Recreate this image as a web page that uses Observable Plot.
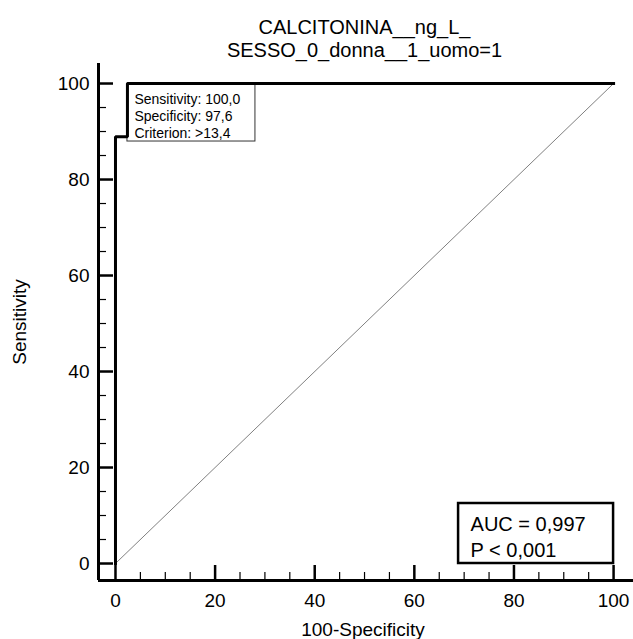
<!DOCTYPE html>
<html><head><meta charset="utf-8">
<script src="https://cdn.jsdelivr.net/npm/d3@7"></script>
<script src="https://cdn.jsdelivr.net/npm/@observablehq/plot@0.6"></script>
<style>html,body{margin:0;padding:0;background:#fff;} svg{display:block;}</style>
</head><body><div id="chart"></div>
<script>
const titleLines = ["CALCITONINA__ng_L_", "SESSO_0_donna__1_uomo=1"];
const xLabel = "100-Specificity";
const yLabel = "Sensitivity";
const rocFpr = [0, 0, 2.4, 2.4, 100];
const rocSens = [0, 88.9, 88.9, 100, 100];
const diagX = [0, 100];
const diagY = [0, 100];
const majorTicks = [0, 20, 40, 60, 80, 100];
const minorTicks = [5, 10, 15, 25, 30, 35, 45, 50, 55, 65, 70, 75, 85, 90, 95];
const criterionLines = ["Sensitivity: 100,0", "Specificity: 97,6", "Criterion: >13,4"];
const criterionFpr = 2.4;
const criterionSens = 100;
const aucLines = ["AUC = 0,997", "P < 0,001"];

const W = 633, H = 639, mL = 98, mR = 0, mT = 63, mB = 59;
const xDom = [-3.41, 104.0], yDom = [-3.54, 104.17];
const kx = (W - mL - mR) / (xDom[1] - xDom[0]);
const ky = (H - mT - mB) / (yDom[1] - yDom[0]);

const roc = rocFpr.map((x, i) => ({x, y: rocSens[i]}));
const diag = diagX.map((x, i) => ({x, y: diagY[i]}));
const crit = [{x: criterionFpr, y: criterionSens, text: criterionLines.join("\n")}];
const auc = [{x1: diagX[1] - 155 / kx, x2: diagX[1], y1: diagY[0], y2: diagY[0] + 60 / ky, text: aucLines.join("\n")}];

const font = "'Liberation Sans', Arial, sans-serif";

const chart = Plot.plot({
  width: W, height: H,
  marginLeft: mL, marginRight: mR, marginTop: mT, marginBottom: mB,
  style: {fontFamily: font, fontSize: "19px", color: "#000", background: "#fff", overflow: "visible"},
  x: {domain: xDom},
  y: {domain: yDom},
  marks: [
    Plot.line(diag, {x: "x", y: "y", stroke: "#808080", strokeWidth: 1}),
    Plot.ruleX([xDom[0]], {stroke: "#000", strokeWidth: 3}),
    Plot.ruleY([yDom[0]], {stroke: "#000", strokeWidth: 3}),
    Plot.ruleX(majorTicks, {x: d => d, y1: yDom[0], y2: yDom[0] + 15 / ky, stroke: "#000", strokeWidth: 2.5}),
    Plot.ruleX(minorTicks, {x: d => d, y1: yDom[0], y2: yDom[0] + 8 / ky, stroke: "#000", strokeWidth: 1.2}),
    Plot.ruleY(majorTicks, {y: d => d, x1: xDom[0], x2: xDom[0] + 15 / kx, stroke: "#000", strokeWidth: 2.5}),
    Plot.ruleY(minorTicks, {y: d => d, x1: xDom[0], x2: xDom[0] + 8 / kx, stroke: "#000", strokeWidth: 1.2}),
    Plot.axisX({ticks: majorTicks, tickSize: 0, tickPadding: 13, fontSize: 19, label: null, anchor: "bottom"}),
    Plot.axisY({ticks: majorTicks, tickSize: 0, tickPadding: 9, fontSize: 19, label: null, anchor: "left"}),
    Plot.rect(crit, {x1: "x", x2: d => d.x + 128 / kx, y1: d => d.y - 58 / ky, y2: "y", fill: "#fff", stroke: "#333", strokeWidth: 1}),
    Plot.line(roc, {x: "x", y: "y", stroke: "#000", strokeWidth: 3, strokeLinejoin: "miter", strokeLinecap: "square"}),
    Plot.text(crit, {x: "x", y: "y", text: "text", textAnchor: "start", lineAnchor: "top", dx: 7, dy: 8, fontSize: 14, lineHeight: 17 / 14, fill: "#000"}),
    Plot.rect(auc, {x1: "x1", x2: "x2", y1: "y1", y2: "y2", fill: "#fff", stroke: "#000", strokeWidth: 2.5}),
    Plot.text(auc, {x: "x1", y: "y2", text: "text", textAnchor: "start", lineAnchor: "top", dx: 12, dy: 9, fontSize: 20, lineHeight: 1.3, fill: "#000"}),
    Plot.text([xLabel], {frameAnchor: "bottom", text: d => d, dx: -3, dy: 49, fontSize: 19, textAnchor: "middle", lineAnchor: "middle", fill: "#000"}),
    Plot.text([yLabel], {frameAnchor: "left", text: d => d, rotate: -90, dx: -79, fontSize: 19, textAnchor: "middle", lineAnchor: "middle", fill: "#000"}),
    Plot.text([titleLines.join("\n")], {frameAnchor: "top", text: d => d, dx: -1.5, dy: -46, fontSize: 20, textAnchor: "middle", lineAnchor: "top", lineHeight: 1.15, fill: "#000"})
  ]
});
document.getElementById("chart").appendChild(chart);
</script>
</body></html>
